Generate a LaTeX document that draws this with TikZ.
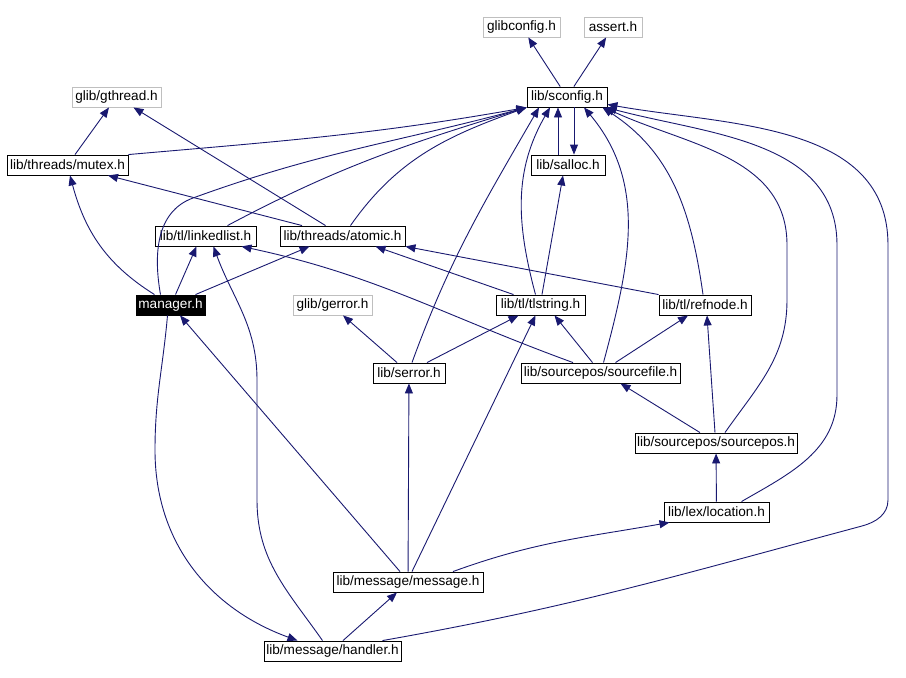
\documentclass[tikz,border=0pt]{standalone}
\usepackage{fontspec}
\setmainfont{Liberation Sans}
\usetikzlibrary{arrows.meta}
\definecolor{edgeblue}{HTML}{191970}
\definecolor{extgray}{HTML}{BFBFBF}
\begin{document}
\begin{tikzpicture}[x=1pt,y=1pt,>={Triangle[length=10pt,width=8pt]}]
	\tikzstyle{rec}=[rectangle,draw,line width=0.9pt,minimum height=20pt,inner xsep=1.5pt,inner ysep=0pt,font=\fontsize{13.6pt}{15pt}\selectfont]
	\tikzstyle{ext}=[rec,draw=extgray]
	\tikzstyle{dep}=[->,draw=edgeblue,line width=0.9pt]
	\useasboundingbox (0,0) rectangle (906,-678);

	\node[ext,minimum width=77pt] (GC) at (521.5,-27) {glibconfig.h};
	\node[ext,minimum width=58pt] (AS) at (613,-27) {assert.h};
	\node[rec,minimum width=80pt] (SC) at (567,-97) {lib/sconfig.h};
	\node[rec,minimum width=74pt] (SA) at (568,-165) {lib/salloc.h};
	\node[ext,minimum width=89pt] (GT) at (116.5,-97) {glib/gthread.h};
	\node[rec,minimum width=121pt] (MU) at (67.5,-165) {lib/threads/mutex.h};
	\node[rec,minimum width=101pt] (LL) at (205.5,-236) {lib/tl/linkedlist.h};
	\node[rec,minimum width=125pt] (AT) at (342.5,-236) {lib/threads/atomic.h};
	\node[rec,minimum width=69pt,fill=black,text=white] (MG) at (170.5,-305) {manager.h};
	\node[ext,minimum width=79pt] (GE) at (332.5,-305) {glib/gerror.h};
	\node[rec,minimum width=89pt] (TS) at (540.5,-305) {lib/tl/tlstring.h};
	\node[rec,minimum width=92pt] (RN) at (705,-305) {lib/tl/refnode.h};
	\node[rec,minimum width=72pt] (SE) at (409,-373) {lib/serror.h};
	\node[rec,minimum width=159pt] (SF) at (600.5,-373) {lib/sourcepos/sourcefile.h};
	\node[rec,minimum width=162pt] (SP) at (716,-443) {lib/sourcepos/sourcepos.h};
	\node[rec,minimum width=105pt] (LO) at (716.5,-512) {lib/lex/location.h};
	\node[rec,minimum width=150pt] (MS) at (408,-582) {lib/message/message.h};
	\node[rec,minimum width=137pt] (HD) at (332.5,-651) {lib/message/handler.h};

	% top
	\path (SC) edge[dep] (GC);
	\path (SC) edge[dep] (AS);
	\path ([xshift=-10pt]SA.north) edge[dep] ([xshift=-9pt]SC.south);
	\path ([xshift=7pt]SC.south) edge[dep] ([xshift=6pt]SA.north);
	\path (MU) edge[dep] (GT);
	\path (AT) edge[dep] (GT);
	\path (AT) edge[dep] (MU);

	% into sconfig from the left
	\path (MU.north east) edge[dep, out=5, in=190] (SC.south west);
	\draw[dep] ([xshift=-10pt]MG.north) to[out=100,in=200] (193,-198) to[out=20,in=195] (SC.south west);
	\path ([xshift=22pt]LL.north) edge[dep, out=28, in=197] (SC.south west);
	\path ([xshift=8pt]AT.north) edge[dep, out=55, in=200] (SC.south west);
	\path ([xshift=3pt]SE.north) edge[dep, out=70, in=-120] ([xshift=-28pt]SC.south);
	\path ([xshift=-5pt]TS.north) edge[dep, out=105, in=-120] ([xshift=-17pt]SC.south);

	% into sconfig from the right
	\path ([xshift=3pt]SF.north) edge[dep, out=75, in=-50] ([xshift=17pt]SC.south);
	\path ([xshift=-2pt]RN.north) edge[dep, out=98, in=-33] ([xshift=-5pt]SC.south east);
	\draw[dep] ([xshift=9pt]SP.north) to[out=55,in=-90] (787,-300) -- (787,-245) to[out=90,in=-25] ([xshift=-3pt]SC.south east);
	\draw[dep] ([xshift=25pt]LO.north) to[out=30,in=-90] (837,-395) -- (837,-245) to[out=90,in=-15] ([xshift=-1pt]SC.south east);
	\draw[dep] ([xshift=50pt]HD.north) to[out=10,in=195] (862,-526) to[out=15,in=-90] (888,-500) -- (888,-245) to[out=90,in=-10] ([yshift=3pt]SC.south east);

	% middle
	\path ([xshift=1.5pt]TS.north) edge[dep] ([xshift=-5pt]SA.south);
	\path ([xshift=-27pt]TS.north) edge[dep] ([xshift=33pt]AT.south);
	\path (RN.north west) edge[dep] (AT.south east);
	\path ([xshift=5pt]MG.north) edge[dep] ([xshift=-9pt]LL.south);
	\path ([xshift=25pt]MG.north) edge[dep] ([xshift=-33pt]AT.south);
	\path ([xshift=-16pt]MG.north) edge[dep, out=148, in=-75] ([xshift=2.5pt]MU.south);
	\path ([xshift=-12pt]SE.north) edge[dep] ([xshift=10.5pt]GE.south);
	\path ([xshift=18pt]SE.north) edge[dep] ([xshift=-22pt]TS.south);
	\path ([xshift=-27.5pt]SF.north) edge[dep, out=160, in=-12] ([xshift=36pt]LL.south);
	\path ([xshift=-8pt]SF.north) edge[dep] ([xshift=14pt]TS.south);
	\path ([xshift=15pt]SF.north) edge[dep] ([xshift=-17pt]RN.south);
	\path ([xshift=-1pt]SP.north) edge[dep] ([xshift=2pt]RN.south);
	\path ([xshift=-16pt]SP.north) edge[dep] ([xshift=20pt]SF.south);
	\path (LO) edge[dep] (SP);

	% bottom
	\path ([xshift=45pt]MS.north) edge[dep, out=20, in=190] ([xshift=-47pt]LO.south);
	\path (MS) edge[dep] (SE);
	\path ([xshift=4pt]MS.north) edge[dep] ([xshift=-5pt]TS.south);
	\path ([xshift=-8pt]MS.north) edge[dep] ([xshift=9.5pt]MG.south);
	\path ([xshift=10.5pt]HD.north) edge[dep] ([xshift=-11pt]MS.south);
	\draw[dep] ([xshift=-3pt]MG.south) to[out=-95,in=90] (155,-450) to[out=-90,in=160] ([xshift=-35pt]HD.north);
	\draw[dep] ([xshift=-10pt]HD.north) to[out=125,in=-90] (257,-500) -- (257,-380) to[out=90,in=-70] ([xshift=8pt]LL.south);
\end{tikzpicture}
\end{document}
